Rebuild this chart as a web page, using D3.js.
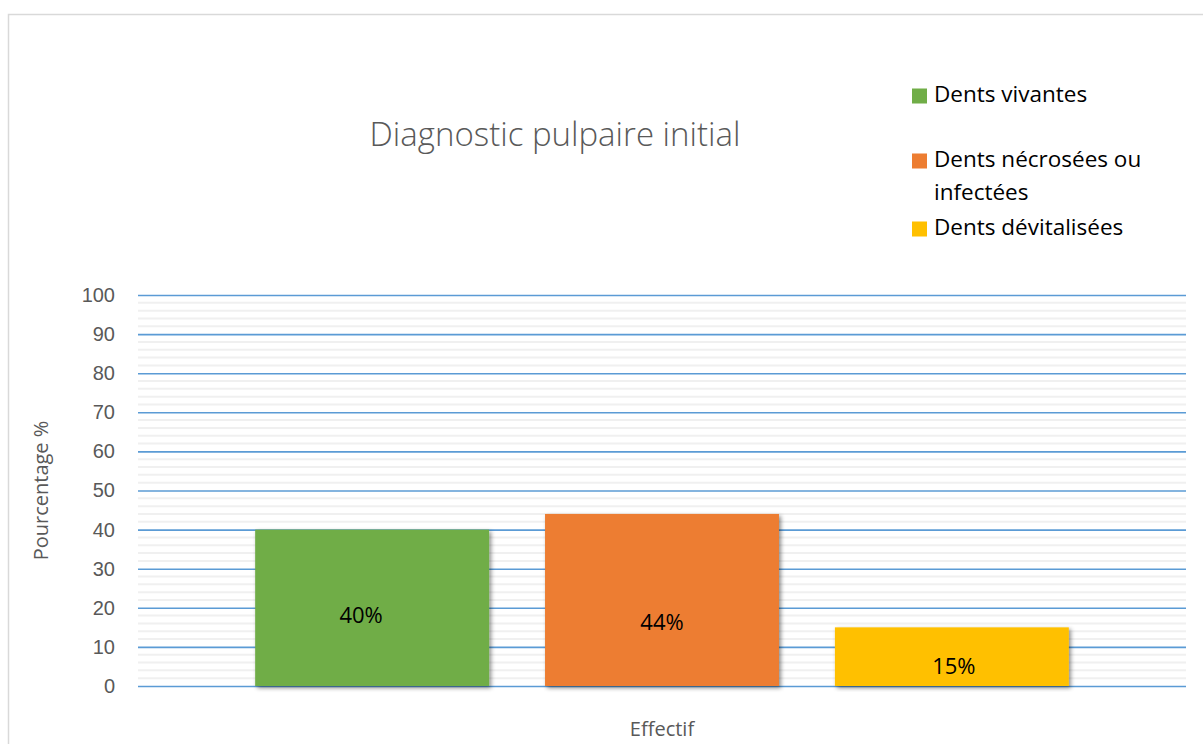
<!DOCTYPE html>
<html>
<head>
<meta charset="utf-8">
<script src="https://cdn.jsdelivr.net/npm/d3@7"></script>
<style>
  html, body { margin: 0; padding: 0; background: #fff; }
  svg { display: block; font-family: "Open Sans", "Noto Sans", sans-serif; }
</style>
</head>
<body>
<div id="chart"></div>
<script>
// données
const category = "Effectif";
const seriesNames = ["Dents vivantes", "Dents nécrosées ou infectées", "Dents dévitalisées"];
const seriesValues = [40, 44, 15];
const valueLabels = ["40%", "44%", "15%"];
const yTicks = [0, 10, 20, 30, 40, 50, 60, 70, 80, 90, 100];
const seriesColors = ["#70ad47", "#ed7d31", "#ffc000"];

const width = 1203, height = 744;
const margin = { left: 138, right: 17, top: 295, bottom: 58 };

const svg = d3.select('#chart').append('svg')
  .attr('width', width)
  .attr('height', height)
  .attr('viewBox', [0, 0, width, height]);

const defs = svg.append('defs');
const shadow = defs.append('filter').attr('id', 'shadow')
  .attr('x', '-10%').attr('y', '-10%').attr('width', '120%').attr('height', '120%');
shadow.append('feDropShadow')
  .attr('dx', 2).attr('dy', 2).attr('stdDeviation', 2)
  .attr('flood-color', '#000').attr('flood-opacity', 0.45);

// cadre du graphique
svg.append('rect')
  .attr('x', 8.5).attr('y', 14.5)
  .attr('width', width + 20).attr('height', height)
  .attr('fill', 'none')
  .attr('stroke', '#d9d9d9')
  .attr('stroke-width', 1.5);

const y = d3.scaleLinear()
  .domain([0, 100])
  .range([height - margin.bottom, margin.top]);

const x0 = d3.scaleBand()
  .domain([category])
  .range([margin.left, width - margin.right])
  .paddingInner(0)
  .paddingOuter(0.144);

const x1 = d3.scaleBand()
  .domain(seriesNames)
  .range([0, x0.bandwidth()])
  .paddingInner(0.193);

// quadrillage secondaire (tous les 2)
const minor = d3.range(0, 101, 2).filter(v => v % 10 !== 0);
svg.append('g')
  .selectAll('line')
  .data(minor)
  .join('line')
  .attr('x1', margin.left).attr('x2', width - margin.right)
  .attr('y1', d => y(d)).attr('y2', d => y(d))
  .attr('stroke', '#f0f0f0')
  .attr('stroke-width', 2);

// quadrillage principal
const yAxis = d3.axisLeft(y)
  .tickValues(yTicks)
  .tickSize(-(width - margin.left - margin.right))
  .tickPadding(23)
  .tickFormat(d3.format('d'));

const gy = svg.append('g')
  .attr('transform', `translate(${margin.left},0)`)
  .call(yAxis);
gy.select('.domain').remove();
gy.selectAll('.tick line')
  .attr('stroke', '#5b9bd5')
  .attr('stroke-width', 1.6);
gy.selectAll('.tick text')
  .attr('fill', '#595959')
  .style('font-size', '20px');

// barres
const bars = svg.append('g')
  .selectAll('g')
  .data(seriesNames)
  .join('g')
  .attr('transform', `translate(${x0(category)},0)`);

bars.append('rect')
  .attr('x', d => x1(d))
  .attr('y', (d, i) => y(seriesValues[i]))
  .attr('width', x1.bandwidth())
  .attr('height', (d, i) => y(0) - y(seriesValues[i]))
  .attr('fill', (d, i) => seriesColors[i])
  .attr('filter', 'url(#shadow)');

// étiquettes de valeurs (placées à la main dans l'original)
const labelShift = [[-11, 9], [0, 24], [2, 11]];
bars.append('text')
  .attr('x', (d, i) => x1(d) + x1.bandwidth() / 2 + labelShift[i][0])
  .attr('y', (d, i) => (y(seriesValues[i]) + y(0)) / 2 + labelShift[i][1])
  .attr('text-anchor', 'middle')
  .attr('dominant-baseline', 'middle')
  .attr('fill', '#000')
  .style('font-size', '22px')
  .text((d, i) => valueLabels[i]);

// titre
svg.append('text')
  .attr('x', 555).attr('y', 137)
  .attr('text-anchor', 'middle')
  .attr('dominant-baseline', 'middle')
  .attr('fill', '#595959')
  .style('font-size', '33px')
  .style('font-weight', 300)
  .text('Diagnostic pulpaire initial');

// titres des axes
svg.append('text')
  .attr('transform', `translate(43,${(y(0) + y(100)) / 2}) rotate(-90)`)
  .attr('text-anchor', 'middle')
  .attr('dominant-baseline', 'middle')
  .attr('fill', '#595959')
  .style('font-size', '20px')
  .text('Pourcentage %');

svg.append('text')
  .attr('x', x0(category) + x0.bandwidth() / 2)
  .attr('y', 731)
  .attr('text-anchor', 'middle')
  .attr('dominant-baseline', 'middle')
  .attr('fill', '#595959')
  .style('font-size', '20px')
  .text(category);

// légende
const legendLines = [["Dents vivantes"], ["Dents nécrosées ou", "infectées"], ["Dents dévitalisées"]];
const legendY = [96, 161, 229];
const legend = svg.append('g')
  .selectAll('g')
  .data(seriesNames)
  .join('g')
  .attr('transform', (d, i) => `translate(912,${legendY[i]})`);

legend.append('rect')
  .attr('x', 0).attr('y', -7.5)
  .attr('width', 15).attr('height', 15)
  .attr('fill', (d, i) => seriesColors[i]);

legend.each(function (d, i) {
  const t = d3.select(this).append('text')
    .attr('x', 22)
    .attr('fill', '#000')
    .style('font-size', '22.5px');
  legendLines[i].forEach((line, k) => {
    t.append('tspan')
      .attr('x', 22)
      .attr('y', k * 33)
      .attr('dominant-baseline', 'middle')
      .text(line);
  });
});
</script>
</body>
</html>
